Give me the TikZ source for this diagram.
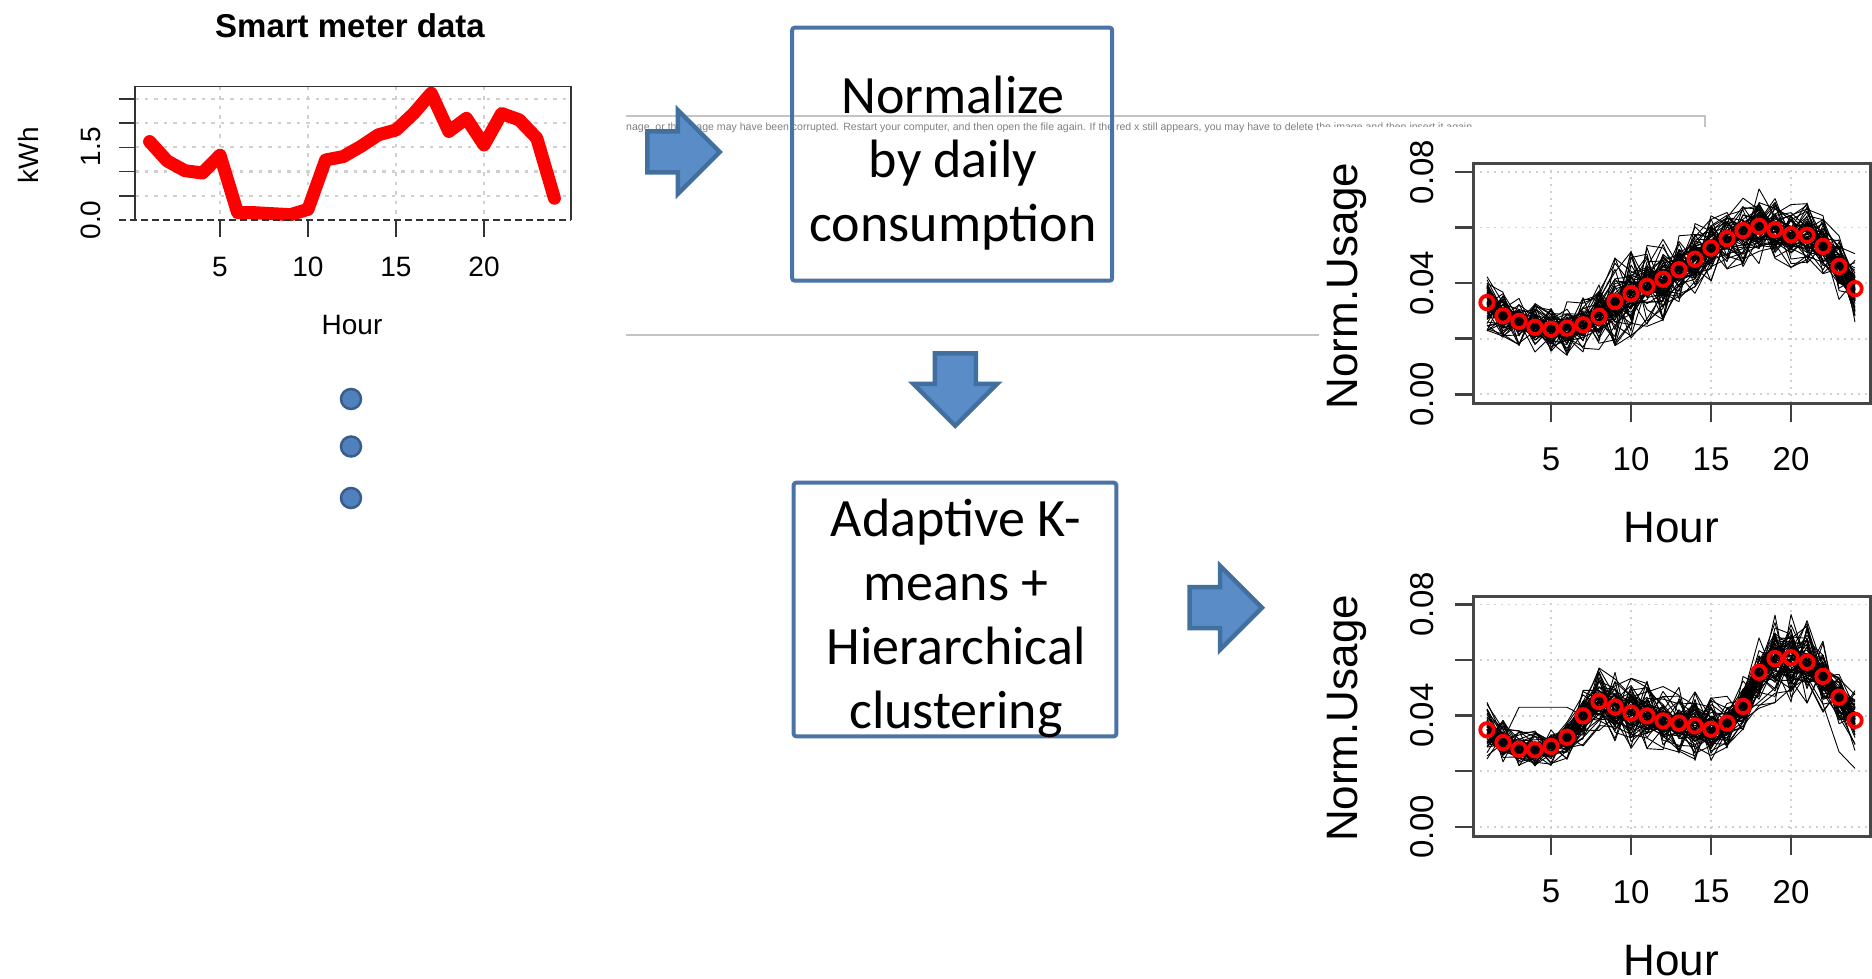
\documentclass[tikz,border=0pt]{standalone}
\usepackage{fontspec}
\usepackage{graphicx}
\setmainfont{Liberation Sans}
\newfontfamily\calibfont{Carlito}
\usetikzlibrary{shapes.arrows}
\definecolor{arrowfill}{HTML}{5A8DC8}
\definecolor{arrowline}{HTML}{41709F}
\definecolor{boxline}{HTML}{4A74A6}
\definecolor{dotfill}{HTML}{4F81BD}
\definecolor{dotline}{HTML}{385D8A}
\definecolor{gridgray}{HTML}{D0D0D0}
\definecolor{phgray}{HTML}{C4C4C4}
\definecolor{phtextgray}{HTML}{808080}
\definecolor{axisdark}{HTML}{333333}
\tikzset{
  blockarrow/.style={single arrow, draw=arrowline, fill=arrowfill, line width=4.5pt,
    single arrow head extend=21.5pt, single arrow head indent=0pt,
    inner xsep=0pt, inner ysep=18.25pt,
    minimum width=79.5pt, minimum height=72.5pt, outer sep=0pt, line join=miter},
  stepbox/.style={draw=boxline, line width=4pt, rounded corners=2.5pt, inner sep=0pt},
  boxtext/.style={font=\calibfont\fontsize{54}{64}\selectfont, align=center, inner sep=0pt},
  dotnode/.style={circle, draw=dotline, fill=dotfill, line width=2.5pt, minimum size=20pt, inner sep=0pt},
  phline/.style={draw=phgray, line width=1.5pt},
  phtext/.style={text=phtextgray, inner sep=0pt, font=\fontsize{10}{12}\selectfont},
  gridL/.style={draw=gridgray, line width=2.2pt, dash pattern=on 3.5pt off 6pt},
  axisL/.style={draw=axisdark, line width=1.6pt},
  lblL/.style={inner sep=0pt, font=\fontsize{28}{32}\selectfont},
  redline/.style={draw=red, line width=13pt, line cap=round, line join=round},
  gridR/.style={draw=gridgray, line width=1.8pt, dash pattern=on 2pt off 5pt},
  axisR/.style={draw=black!72, line width=3pt},
  tickR/.style={draw=black!75, line width=2.5pt},
  lblR/.style={inner sep=0pt, font=\fontsize{33}{38}\selectfont},
  titleR/.style={inner sep=0pt, font=\fontsize{44}{50}\selectfont},
  bundle/.style={draw=black, line width=0.9pt, line join=round},
  redcirc/.style={circle, draw=red, line width=3.8pt, minimum size=13.5pt, inner sep=0pt}
}
\def\meanT{{33,28.2,26.2,24.1,23.4,23.8,25,28,33.4,36.2,38.8,41.4,44.8,48.6,52.6,56,58.9,60.4,59.2,57.4,57.2,53.2,46,38}}
\def\ampT{{11,9,9,9,9,10,10,12,16,16,15,15,14,13,12,12,13,14,12,12,12,12,12,13}}
\def\meanB{{34.9,30.3,27.9,27.7,28.9,32.2,39.9,45.1,43.1,40.9,39.9,38.1,37.3,36.3,35.1,37.3,43.3,55.6,60.5,60.8,59.2,54.1,46.6,38.3}}
\def\ampB{{11,8,7,7,7,8,11,13,13,13,13,13,13,13,12,10,11,13,16,16,16,13,11,11}}
\begin{document}
\begin{tikzpicture}[x=1pt,y=-1pt]
\useasboundingbox (0,0) rectangle (1872,979);
\fill[white] (0,0) rectangle (1872,979);

% broken image placeholder
\draw[phline] (626,335) -- (1705,335) -- (1705,116) -- (626,116);
\node[phtext, anchor=west] (phmsg) at (626,127.7) {\resizebox{849pt}{!}{nage, or the image may have been corrupted. Restart your computer, and then open the file again. If the red x still appears, you may have to delete the image and then insert it again.}};
\fill[white] (1319,127) rectangle (1872,545);

% ---------- left plot ----------
\node[inner sep=0pt, font=\bfseries\fontsize{33}{38}\selectfont] (titleL) at (350,26) {Smart meter data};
\foreach \v in {0.5,1,1.5,2,2.5} \draw[gridL] (135,{220-48.4*\v}) -- (571,{220-48.4*\v});
\foreach \h in {5,10,15,20} \draw[gridL] ({149.6+(\h-1)*17.6},86.7) -- ({149.6+(\h-1)*17.6},220);
\draw[redline] (149.6,{220-48.4*1.62})
  \foreach \h/\v in {2/1.22,3/1.02,4/0.97,5/1.34,6/0.15,7/0.15,8/0.13,9/0.11,10/0.22,11/1.24,12/1.31,13/1.52,14/1.76,15/1.86,16/2.2,17/2.62,18/1.83,19/2.1,20/1.55,21/2.2,22/2.07,23/1.69,24/0.45}{ -- ({149.6+(\h-1)*17.6},{220-48.4*\v}) };
\draw[axisL] (135,220) -- (135,86.7) -- (571,86.7) -- (571,220);
\draw[axisL, dash pattern=on 7pt off 4pt] (119,220) -- (571,220);
\foreach \v in {0.5,1,1.5,2,2.5} \draw[axisL] (119,{220-48.4*\v}) -- (135,{220-48.4*\v});
\foreach \h in {5,10,15,20} {
  \draw[axisL] ({149.6+(\h-1)*17.6},220) -- ({149.6+(\h-1)*17.6},237);
  \node[lblL] (xl\h) at ({149.6+(\h-1)*17.6},266.7) {\h};
}
\node[lblL, rotate=90] (yl0) at (90.7,220) {0.0};
\node[lblL, rotate=90] (yl15) at (90.7,146.7) {1.5};
\node[lblL, rotate=90] (kwh) at (28.3,155) {kWh};
\node[lblL] (hourL) at (352,325) {Hour};

% dots
\node[dotnode] (dot1) at (351,399) {};
\node[dotnode] (dot2) at (351,446.5) {};
\node[dotnode] (dot3) at (351,498) {};

% ---------- arrows and boxes ----------
\node[blockarrow, anchor=tail] (arr1) at (647.25,152) {};
\node[stepbox, minimum width=320pt, minimum height=253pt] (norm) at (952.2,154.2) {};
\node[boxtext] (normtxt) at (953,162.7) {Normalize\\by daily\\consumption};
\node[blockarrow, rotate=270, anchor=tail] (arr2) at (955.3,353.25) {};
\node[stepbox, minimum width=322.6pt, minimum height=253.6pt] (clust) at (955,609.5) {};
\node[boxtext] (clusttxt) at (956,618) {Adaptive K-\\means +\\Hierarchical\\clustering};
\node[blockarrow, anchor=tail] (arr3) at (1189.5,607.7) {};

% ---------- right plot, top ----------
\foreach \v in {0,20,40,60,80} \draw[gridR] (1473,{394.3-2.78*\v}) -- (1870,{394.3-2.78*\v});
\foreach \h in {5,10,15,20} \draw[gridR] ({1487+(\h-1)*16},163.3) -- ({1487+(\h-1)*16},403.3);
\pgfmathsetseed{7}
\foreach \k in {1,...,45}{
  \draw[bundle] (1487,{394.3-2.78*(\meanT[0]+0.7*\ampT[0]*(rand+rand)/2)})
    \foreach \h in {2,...,24}{ -- ({1487+(\h-1)*16},{394.3-2.78*(\meanT[\h-1]+0.7*\ampT[\h-1]*(rand+rand)/2)}) };
}
\foreach \k in {1,...,24}{
  \draw[bundle] (1487,{394.3-2.78*(\meanT[0]+\ampT[0]*rand)})
    \foreach \h in {2,...,24}{ -- ({1487+(\h-1)*16},{394.3-2.78*(\meanT[\h-1]+\ampT[\h-1]*rand)}) };
}
\foreach \h in {1,...,24} \node[redcirc] (ct\h) at ({1487+(\h-1)*16},{394.3-2.78*\meanT[\h-1]}) {};
\draw[axisR] (1473,163.3) rectangle (1870,403.3);
\foreach \v in {0,20,40,60,80} \draw[tickR] (1455,{394.3-2.78*\v}) -- (1473,{394.3-2.78*\v});
\foreach \h in {5,10,15,20} {
  \draw[tickR] ({1487+(\h-1)*16},403.3) -- ({1487+(\h-1)*16},422);
  \node[lblR] (xt\h) at ({1487+(\h-1)*16},459.3) {\h};
}
\node[lblR, rotate=90] (yt0) at (1422,394.3) {0.00};
\node[lblR, rotate=90] (yt4) at (1422,283.1) {0.04};
\node[lblR, rotate=90] (yt8) at (1422,171.9) {0.08};
\node[titleR, rotate=90] (normT) at (1347,286) {Norm.Usage};
\node[titleR] (hourT) at (1671,528) {Hour};

% ---------- right plot, bottom ----------
\foreach \v in {0,20,40,60,80} \draw[gridR] (1473,{826.8-2.78*\v}) -- (1870,{826.8-2.78*\v});
\foreach \h in {5,10,15,20} \draw[gridR] ({1487+(\h-1)*16},596) -- ({1487+(\h-1)*16},836);
\foreach \k in {1,...,45}{
  \draw[bundle] (1487,{826.8-2.78*(\meanB[0]+0.7*\ampB[0]*(rand+rand)/2)})
    \foreach \h in {2,...,24}{ -- ({1487+(\h-1)*16},{826.8-2.78*(\meanB[\h-1]+0.7*\ampB[\h-1]*(rand+rand)/2)}) };
}
\foreach \k in {1,...,24}{
  \draw[bundle] (1487,{826.8-2.78*(\meanB[0]+\ampB[0]*rand)})
    \foreach \h in {2,...,24}{ -- ({1487+(\h-1)*16},{826.8-2.78*(\meanB[\h-1]+\ampB[\h-1]*rand)}) };
}
\draw[bundle] (1487,{826.8-2.78*36}) -- (1503,{826.8-2.78*31}) -- (1519,{826.8-2.78*43}) -- (1567,{826.8-2.78*43}) -- (1583,{826.8-2.78*40}) -- (1599,{826.8-2.78*45});
\draw[bundle] (1807,{826.8-2.78*54}) -- (1823,{826.8-2.78*44}) -- (1839,{826.8-2.78*27}) -- (1855,{826.8-2.78*21});
\foreach \h in {1,...,24} \node[redcirc] (cb\h) at ({1487+(\h-1)*16},{826.8-2.78*\meanB[\h-1]}) {};
\draw[axisR] (1473,596) rectangle (1870,836);
\foreach \v in {0,20,40,60,80} \draw[tickR] (1455,{826.8-2.78*\v}) -- (1473,{826.8-2.78*\v});
\foreach \h in {5,10,15,20} {
  \draw[tickR] ({1487+(\h-1)*16},836) -- ({1487+(\h-1)*16},854.5);
  \node[lblR] (xb\h) at ({1487+(\h-1)*16},891.7) {\h};
}
\node[lblR, rotate=90] (yb0) at (1422,826.8) {0.00};
\node[lblR, rotate=90] (yb4) at (1422,715.6) {0.04};
\node[lblR, rotate=90] (yb8) at (1422,604.4) {0.08};
\node[titleR, rotate=90] (normB) at (1347,718.5) {Norm.Usage};
\node[titleR] (hourB) at (1671,960.5) {Hour};
\end{tikzpicture}
\end{document}
